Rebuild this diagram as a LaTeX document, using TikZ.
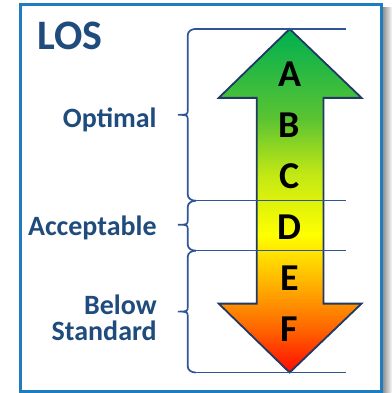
\documentclass[tikz,border=0pt]{standalone}
\usepackage{fontspec}
\setmainfont{Carlito}
\usepackage{tikz}

\definecolor{losblue}{RGB}{31,75,125}
\definecolor{framecol}{RGB}{30,125,190}
\definecolor{bracecol}{RGB}{47,85,151}
\definecolor{arrowcol}{RGB}{31,56,100}
\definecolor{losred}{RGB}{255,10,0}
\definecolor{losorange}{RGB}{255,100,0}
\definecolor{losamber}{RGB}{255,185,0}
\definecolor{losyellow}{RGB}{255,255,0}
\definecolor{loslime}{RGB}{195,232,20}
\definecolor{loslgreen}{RGB}{90,195,50}
\definecolor{losgreen}{RGB}{0,176,80}

\pgfdeclareverticalshading{losgrad}{100bp}{color(0bp)=(losred); color(25bp)=(losred);
  color(31.25bp)=(losorange); color(38.5bp)=(losamber); color(45bp)=(losyellow);
  color(53.8bp)=(loslime); color(62bp)=(loslgreen); color(75bp)=(losgreen);
  color(100bp)=(losgreen)}

\begin{document}
\begin{tikzpicture}[x=1pt,y=-1pt,
  band/.style={text=losblue,font=\fontsize{28}{26}\selectfont\bfseries,align=right,inner sep=0pt},
  grade/.style={font=\fontsize{38}{38}\selectfont\bfseries,inner sep=0pt,anchor=base},
  level/.style={draw=bracecol,line width=1.4pt},
  bracket/.style={draw=bracecol,line width=1.7pt},
  losarrow/.style={draw=arrowcol,line width=1.8pt,line join=miter,shading=losgrad}]
\fill[white] (0,0) rectangle (392,393);
% frame and its shadow
\shade[left color=black!45,right color=black!5] (383,8) rectangle (392,393);
\draw[draw=framecol,line width=3pt] (20.5,4.8) rectangle (381.5,392);
\node[text=losblue,font=\fontsize{42}{42}\selectfont\bfseries,anchor=base west,inner sep=0pt] (los) at (37,50) {LOS};
% double arrow
\draw[losarrow] (290,29) -- (362,98) -- (324,98) -- (324,304) -- (362,304) -- (290,373)
  -- (219,304) -- (257,304) -- (257,98) -- (219,98) -- cycle;
\foreach \y in {29,201,251,373}
  \draw[level] (194,\y) -- (346,\y);
% braces
\foreach \ya/\ym/\yb in {29/115/201, 201/225/251, 251/312/373}
  \draw[bracket] (196,\ya) to[out=180,in=90] (188,\ya+6) -- (188,\ym-6)
    .. controls (188,\ym) .. (178,\ym) .. controls (188,\ym) .. (188,\ym+6)
    -- (188,\yb-6) to[out=-90,in=180] (196,\yb);
\foreach \l [count=\i] in {A,B,C,D,E,F}
  \node[grade] (\l) at (290,36+51*\i) {\l};
\node[band,anchor=base east] (optimal) at (157,128) {Optimal};
\node[band,anchor=base east] (acceptable) at (157,236) {Acceptable};
\node[band,anchor=east] (below) at (157,318) {Below\\Standard};
\end{tikzpicture}
\end{document}
